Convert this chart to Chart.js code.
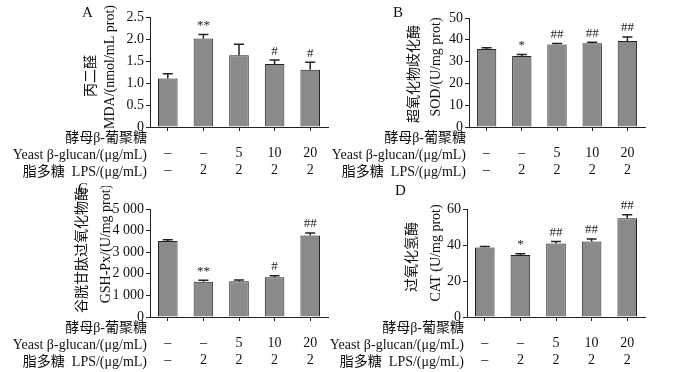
<!DOCTYPE html>
<html>
<head>
  <script src="https://cdn.jsdelivr.net/npm/chart.js@4/dist/chart.umd.min.js"></script>
  <style>
    * { margin: 0; padding: 0; box-sizing: border-box; }
    body { width: 700px; height: 372px; background: #fff; position: relative; overflow: hidden;
      font-family: 'Liberation Serif', 'Noto Sans CJK SC', serif; }
    .panel { position: absolute; }
    .letter { position: absolute; font-size: 15px; line-height: 16px; color: #111; }
  </style>
</head>
<body>
  <canvas id="cA" class="panel" style="left:0;top:0" width="350" height="186"></canvas>
  <canvas id="cB" class="panel" style="left:300px;top:0" width="400" height="186"></canvas>
  <canvas id="cC" class="panel" style="left:0;top:186px" width="350" height="186"></canvas>
  <canvas id="cD" class="panel" style="left:300px;top:186px" width="400" height="186"></canvas>
  <div class="letter" style="left:82px;top:4px">A</div>
  <div class="letter" style="left:393px;top:4px">B</div>
  <div class="letter" style="left:78px;top:180px">C</div>
  <div class="letter" style="left:395px;top:182px">D</div>

  <script>
    // treatment table under each panel
    const yeastDose = ['–', '–', '5', '10', '20'];
    const lpsDose = ['–', '2', '2', '2', '2'];

    // A: MDA
    const mdaMean = [1.10, 2.01, 1.63, 1.43, 1.30];
    const mdaErr = [0.11, 0.09, 0.25, 0.09, 0.17];
    const mdaSig = ['', '**', '', '#', '#'];

    // B: SOD
    const sodMean = [35.8, 32.6, 37.8, 38.4, 39.4];
    const sodErr = [0.6, 0.7, 0.5, 0.5, 1.9];
    const sodSig = ['', '*', '##', '##', '##'];

    // C: GSH-Px
    const gshMean = [3520, 1630, 1650, 1840, 3770];
    const gshErr = [60, 70, 60, 70, 120];
    const gshSig = ['', '**', '', '#', '##'];

    // D: CAT
    const catMean = [38.6, 34.5, 40.8, 42.0, 54.8];
    const catErr = [0.6, 0.7, 1.2, 1.3, 2.0];
    const catSig = ['', '*', '##', '##', '##'];

    const FONT = "'Liberation Serif', 'Noto Sans CJK SC', serif";
    const labels = yeastDose.map((y, i) => [y, lpsDose[i]]);

    // titles: [text, x, y] in canvas coords, drawn rotated
    const panels = [
      { id: 'cA', mean: mdaMean, err: mdaErr, sig: mdaSig, max: 2.5, step: 0.5,
        titles: [['丙二醛', 91, 76], ['MDA/(nmol/mL prot)', 110, 67]],
        fmt: v => v === 0 ? '0' : v.toFixed(1),
        axisW: 150, top: 17, right: 22, xH: 59 },
      { id: 'cB', mean: sodMean, err: sodErr, sig: sodSig, max: 50, step: 10,
        titles: [['超氧化物歧化酶', 114, 74], ['SOD/(U/mg prot)', 136, 67]],
        fmt: v => String(v),
        axisW: 169, top: 18, right: 55, xH: 59 },
      { id: 'cC', mean: gshMean, err: gshErr, sig: gshSig, max: 5000, step: 1000,
        titles: [['谷胱甘肽过氧化物酶', 82, 64], ['GSH-Px/(U/mg prot)', 106, 58]],
        fmt: v => v === 0 ? '0' : (v / 1000) + ' 000',
        axisW: 150, top: 23, right: 22, xH: 55 },
      { id: 'cD', mean: catMean, err: catErr, sig: catSig, max: 60, step: 20,
        titles: [['过氧化氢酶', 112, 71], ['CAT (U/mg prot)', 136, 67]],
        fmt: v => String(v),
        axisW: 167, top: 23, right: 55, xH: 55 }
    ];

    function extrasPlugin(p) {
      return {
        id: 'extras',
        afterDatasetsDraw(chart) {
          const ctx = chart.ctx;
          const meta = chart.getDatasetMeta(0);
          const ys = chart.scales.y;
          ctx.save();
          ctx.strokeStyle = '#222';
          ctx.lineWidth = 1.5;
          meta.data.forEach((bar, i) => {
            const yE = ys.getPixelForValue(p.mean[i] + p.err[i]);
            ctx.beginPath();
            ctx.moveTo(bar.x, bar.y);
            ctx.lineTo(bar.x, yE);
            ctx.moveTo(bar.x - 5, yE);
            ctx.lineTo(bar.x + 5, yE);
            ctx.stroke();
            if (p.sig[i]) {
              ctx.fillStyle = '#222';
              ctx.font = '13px ' + FONT;
              ctx.textAlign = 'center';
              ctx.textBaseline = 'middle';
              ctx.fillText(p.sig[i], bar.x, yE - 9);
            }
          });
          ctx.restore();
        },
        afterDraw(chart) {
          const ctx = chart.ctx;
          const a = chart.chartArea;
          ctx.save();
          ctx.fillStyle = '#111';
          ctx.font = '14px ' + FONT;
          ctx.textAlign = 'right';
          ctx.textBaseline = 'middle';
          const x = a.left - 3;
          ctx.fillText('酵母β-葡聚糖', x, a.bottom + 11);
          ctx.fillText('Yeast β-glucan/(μg/mL)', x, a.bottom + 28);
          ctx.fillText('脂多糖  LPS/(μg/mL)', x, a.bottom + 45);
          ctx.textAlign = 'center';
          p.titles.forEach(([t, tx, ty]) => {
            ctx.save();
            ctx.translate(tx, ty);
            ctx.rotate(-Math.PI / 2);
            ctx.fillText(t, 0, 0);
            ctx.restore();
          });
          ctx.restore();
        }
      };
    }

    panels.forEach(p => {
      new Chart(document.getElementById(p.id), {
        type: 'bar',
        data: {
          labels: labels,
          datasets: [{
            data: p.mean,
            backgroundColor: '#8a8a8a',
            borderColor: '#222',
            borderWidth: 1,
            barPercentage: 0.55,
            categoryPercentage: 1
          }]
        },
        options: {
          responsive: false,
          animation: false,
          layout: { padding: { left: 0, top: p.top, right: p.right, bottom: 0 } },
          plugins: { legend: { display: false }, tooltip: { enabled: false } },
          scales: {
            x: {
              grid: { display: true, drawOnChartArea: false, drawTicks: true, tickLength: 4, offset: false, color: '#222' },
              border: { display: true, color: '#222', width: 1 },
              ticks: { color: '#111', padding: 14, autoSkip: false, maxRotation: 0,
                font: { family: FONT, size: 14, lineHeight: '17px' } },
              afterFit: s => { s.height = p.xH; }
            },
            y: {
              min: 0, max: p.max,
              grid: { display: true, drawOnChartArea: false, drawTicks: true, tickLength: 4, color: '#222' },
              border: { display: true, color: '#222', width: 1 },
              ticks: { stepSize: p.step, color: '#111', padding: 2, callback: p.fmt,
                font: { family: FONT, size: 14 } },
              afterFit: s => { s.width = p.axisW; }
            }
          }
        },
        plugins: [extrasPlugin(p)]
      });
    });
  </script>
</body>
</html>
